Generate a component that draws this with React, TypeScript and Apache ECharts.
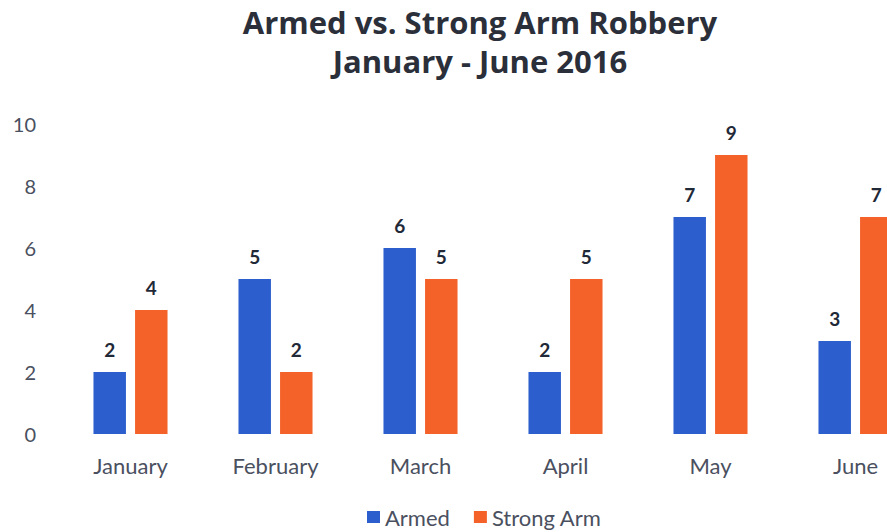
import React, { useEffect, useRef } from "react";
import * as echarts from "echarts";

const categories = ["January", "February", "March", "April", "May", "June"];
const armed = [2, 5, 6, 2, 7, 3];
const strongArm = [4, 2, 5, 5, 9, 7];
const seriesNames = ["Armed", "Strong Arm"];

const FONT = "Lato, 'Open Sans', sans-serif";

export default function App() {
  const ref = useRef<HTMLDivElement>(null);
  useEffect(() => {
    if (!ref.current) return;
    const chart = echarts.init(ref.current, undefined, { renderer: "svg" });
    const labelCfg = {
      show: true,
      position: "top" as const,
      distance: 13,
      fontFamily: FONT,
      fontWeight: "bold" as const,
      fontSize: 19,
      color: "#1f2937",
    };
    chart.setOption({
      animation: false,
      backgroundColor: "#ffffff",
      title: {
        text: "Armed vs. Strong Arm Robbery\nJanuary - June 2016",
        left: 475,
        textAlign: "center",
        top: -3,
        textStyle: {
          fontFamily: "'Open Sans', sans-serif",
          fontWeight: "bold",
          fontSize: 31,
          lineHeight: 39,
          color: "#2b2f3a",
        },
      },
      legend: {
        data: seriesNames,
        bottom: -1,
        left: 362,
        itemWidth: 13,
        itemHeight: 12,
        itemGap: 24,
        icon: "rect",
        textStyle: { fontFamily: FONT, fontSize: 22, color: "#4a5060" },
      },
      grid: {
        left: 58,
        top: 124,
        width: 870,
        height: 310,
        containLabel: false,
        outerBoundsMode: "none",
      },
      xAxis: {
        type: "category",
        data: categories,
        axisLine: { show: false },
        axisTick: { show: false },
        axisLabel: { fontFamily: FONT, fontSize: 22, color: "#4a5060", margin: 20 },
      },
      yAxis: {
        type: "value",
        min: 0,
        max: 10,
        interval: 2,
        splitLine: { show: false },
        axisLine: { show: false },
        axisTick: { show: false },
        axisLabel: { fontFamily: FONT, fontSize: 20, color: "#4a5060", margin: 22 },
      },
      series: [
        {
          name: seriesNames[0],
          type: "bar",
          data: armed,
          barWidth: "22.4%",
          barGap: "28%",
          itemStyle: { color: "#2d5ecd" },
          label: labelCfg,
        },
        {
          name: seriesNames[1],
          type: "bar",
          data: strongArm,
          barWidth: "22.4%",
          barGap: "28%",
          itemStyle: { color: "#f4622a" },
          label: labelCfg,
        },
      ],
    });
    return () => chart.dispose();
  }, []);
  return <div ref={ref} style={{ width: 887, height: 532, position: "absolute", left: 0, top: 0 }} />;
}
